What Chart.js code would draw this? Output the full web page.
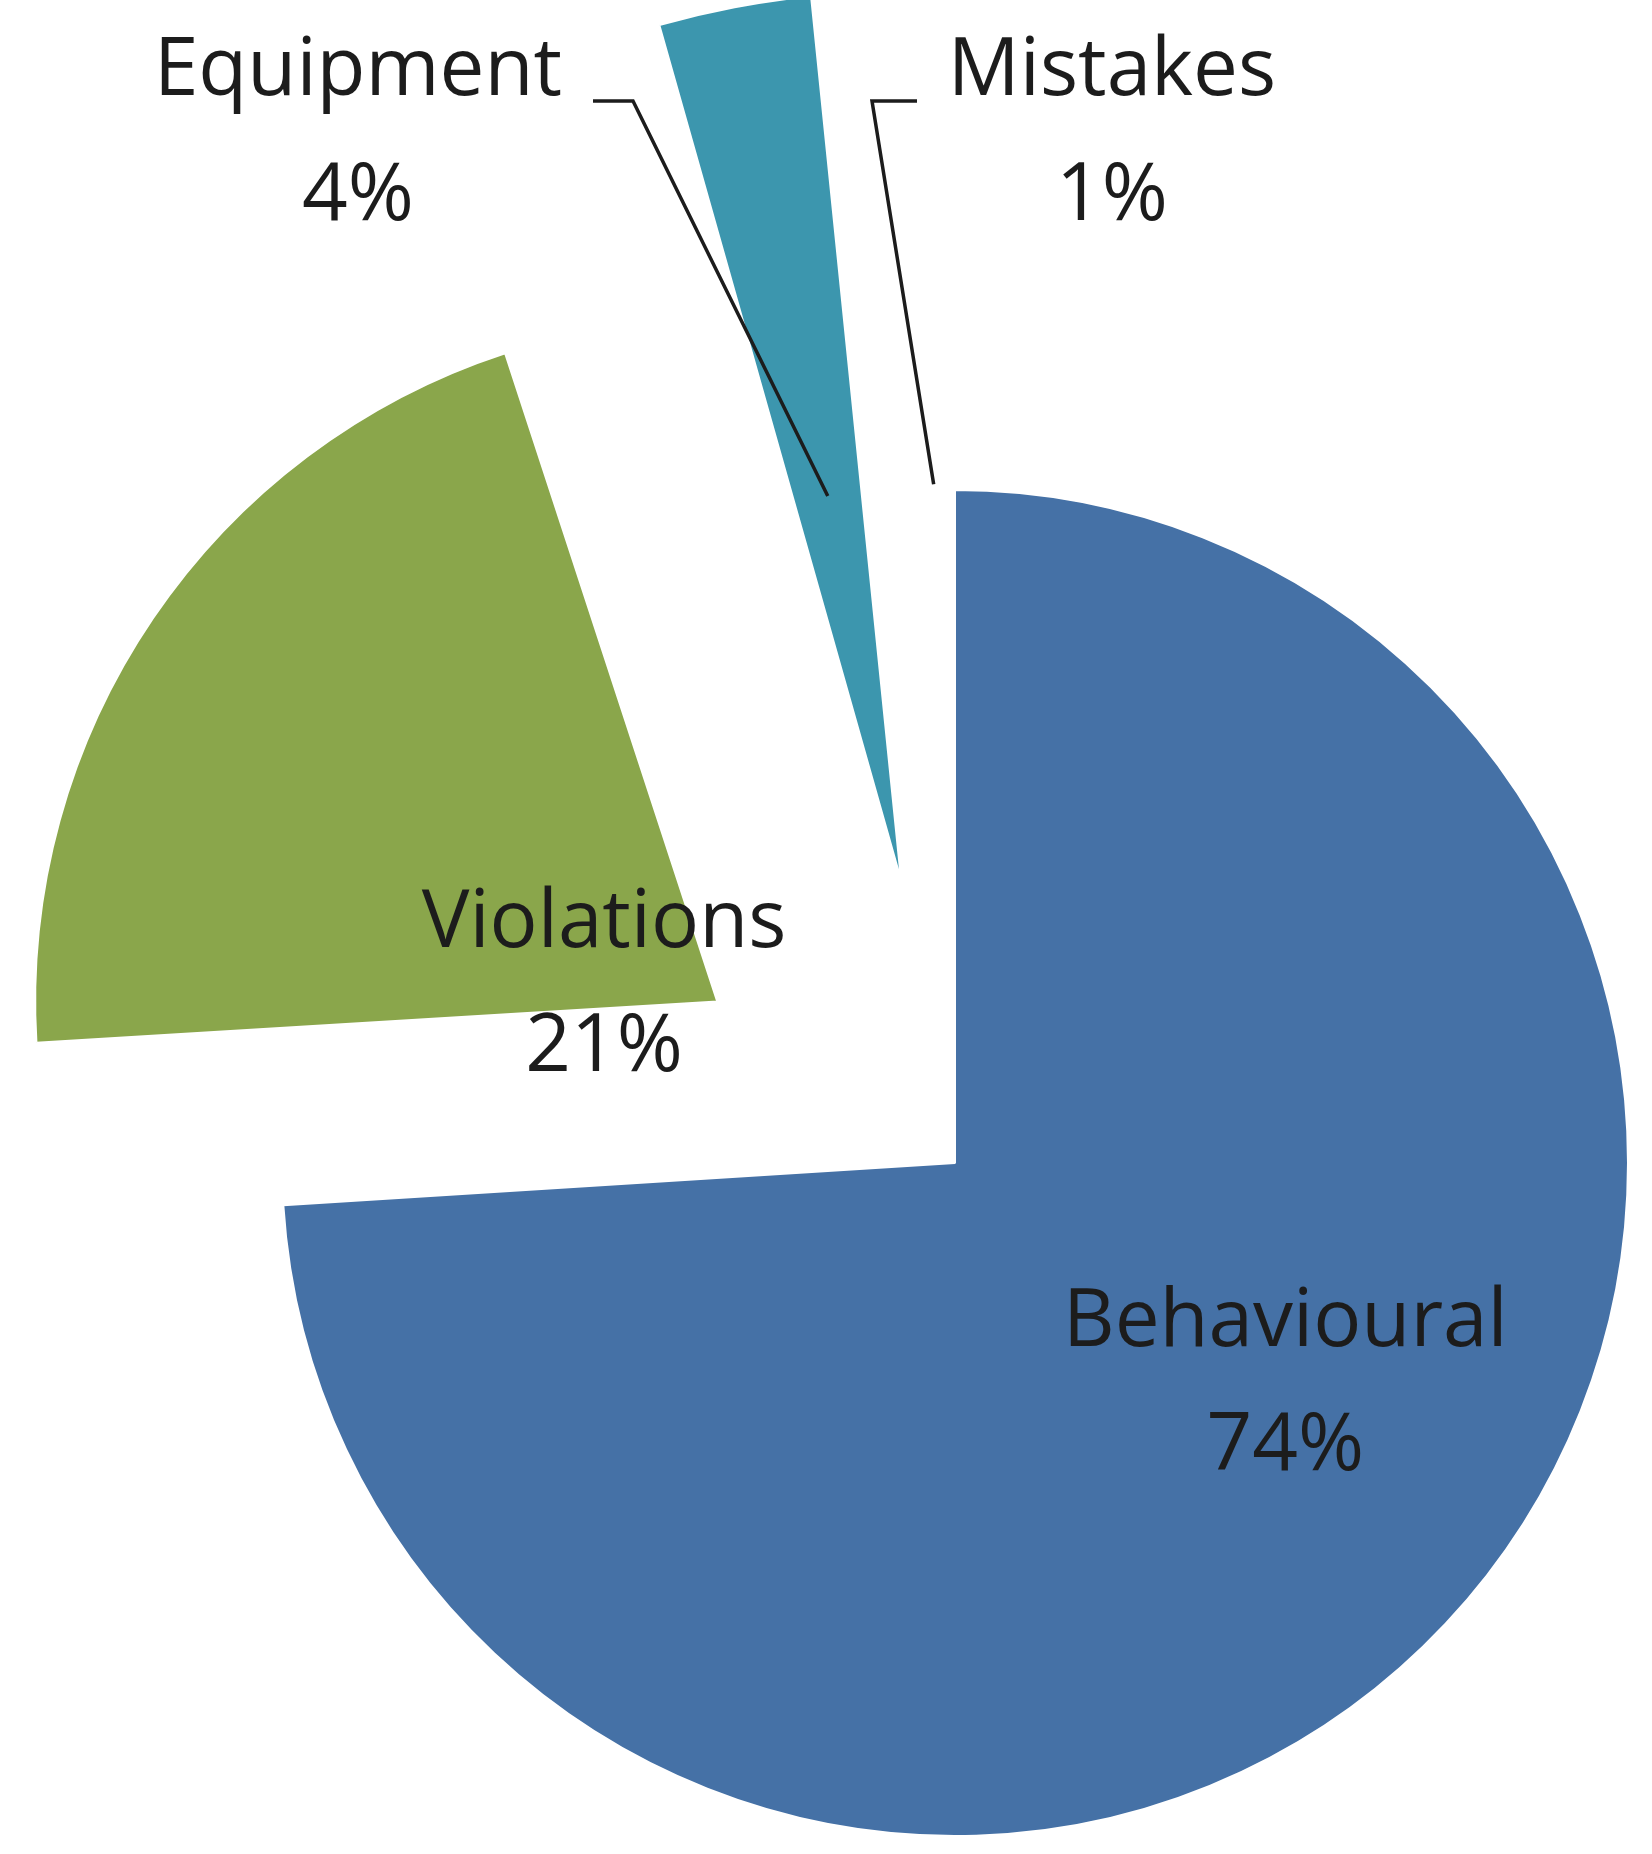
<!DOCTYPE html>
<html><head><meta charset="utf-8">
<script src="https://cdn.jsdelivr.net/npm/chart.js@4"></script>
<style>html,body{margin:0;padding:0;background:#fff}#w{width:1652px;height:1854px}</style>
</head><body><div id="w"><canvas id="c"></canvas></div>
<script>
const categories = ["Behavioural", "Violations", "Equipment", "Mistakes"];
const values = [74, 21, 4, 1];
const percentLabels = ["74%", "21%", "4%", "1%"];
const colors = ["#4571a6", "#8aa64b", "#3c96ae", "#a0b6dc"];
const offsets = [0, 1150, 1150, 1050];

const FONT = '80px "Open Sans", "Liberation Sans", sans-serif';
const labelShift = [[36, -54], [-17, 50]];
const leaders = [null, null, { ex: 633, hx: 593, tx: 358 }, { ex: 872, hx: 917, tx: 1112 }];
const labelPlugin = {
  id: 'labels',
  afterDatasetsDraw(chart) {
    const ctx = chart.ctx;
    const arcs = chart.getDatasetMeta(0).data;
    ctx.save();
    ctx.font = FONT; ctx.fillStyle = '#1c1c1c'; ctx.textAlign = 'center'; ctx.textBaseline = 'middle';
    ctx.strokeStyle = '#1c1c1c'; ctx.lineWidth = 3.5;
    arcs.forEach((a, i) => {
      const mid = (a.startAngle + a.endAngle) / 2;
      const cx = Math.cos(mid), cy = Math.sin(mid);
      if (i < 2) {
        const r = a.outerRadius * 0.6;
        const x = a.x + cx * r + labelShift[i][0], y = a.y + cy * r + labelShift[i][1];
        ctx.fillText(categories[i], x, y - 62);
        ctx.fillText(percentLabels[i], x, y + 62);
      } else {
        const L = leaders[i];
        const sx = a.x + cx * (a.outerRadius + 6), sy = a.y + cy * (a.outerRadius + 6);
        const ey = 101;
        ctx.beginPath(); ctx.moveTo(sx, sy); ctx.lineTo(L.ex, ey); ctx.lineTo(L.hx, ey); ctx.stroke();
        ctx.fillText(categories[i], L.tx, 72);
        ctx.fillText(percentLabels[i], L.tx, 197);
      }
    });
    ctx.restore();
  }
};

new Chart(document.getElementById('c'), {
  type: 'pie',
  data: { labels: categories, datasets: [{ data: values, backgroundColor: colors, borderColor: '#ffffff', borderWidth: 2, offset: offsets }] },
  options: {
    responsive: true, maintainAspectRatio: false, animation: false,
    radius: 673,
    layout: { padding: { left: 258, top: 472, right: 0, bottom: 0 } },
    plugins: { legend: { display: false }, tooltip: { enabled: false } }
  },
  plugins: [labelPlugin]
});
</script></body></html>
